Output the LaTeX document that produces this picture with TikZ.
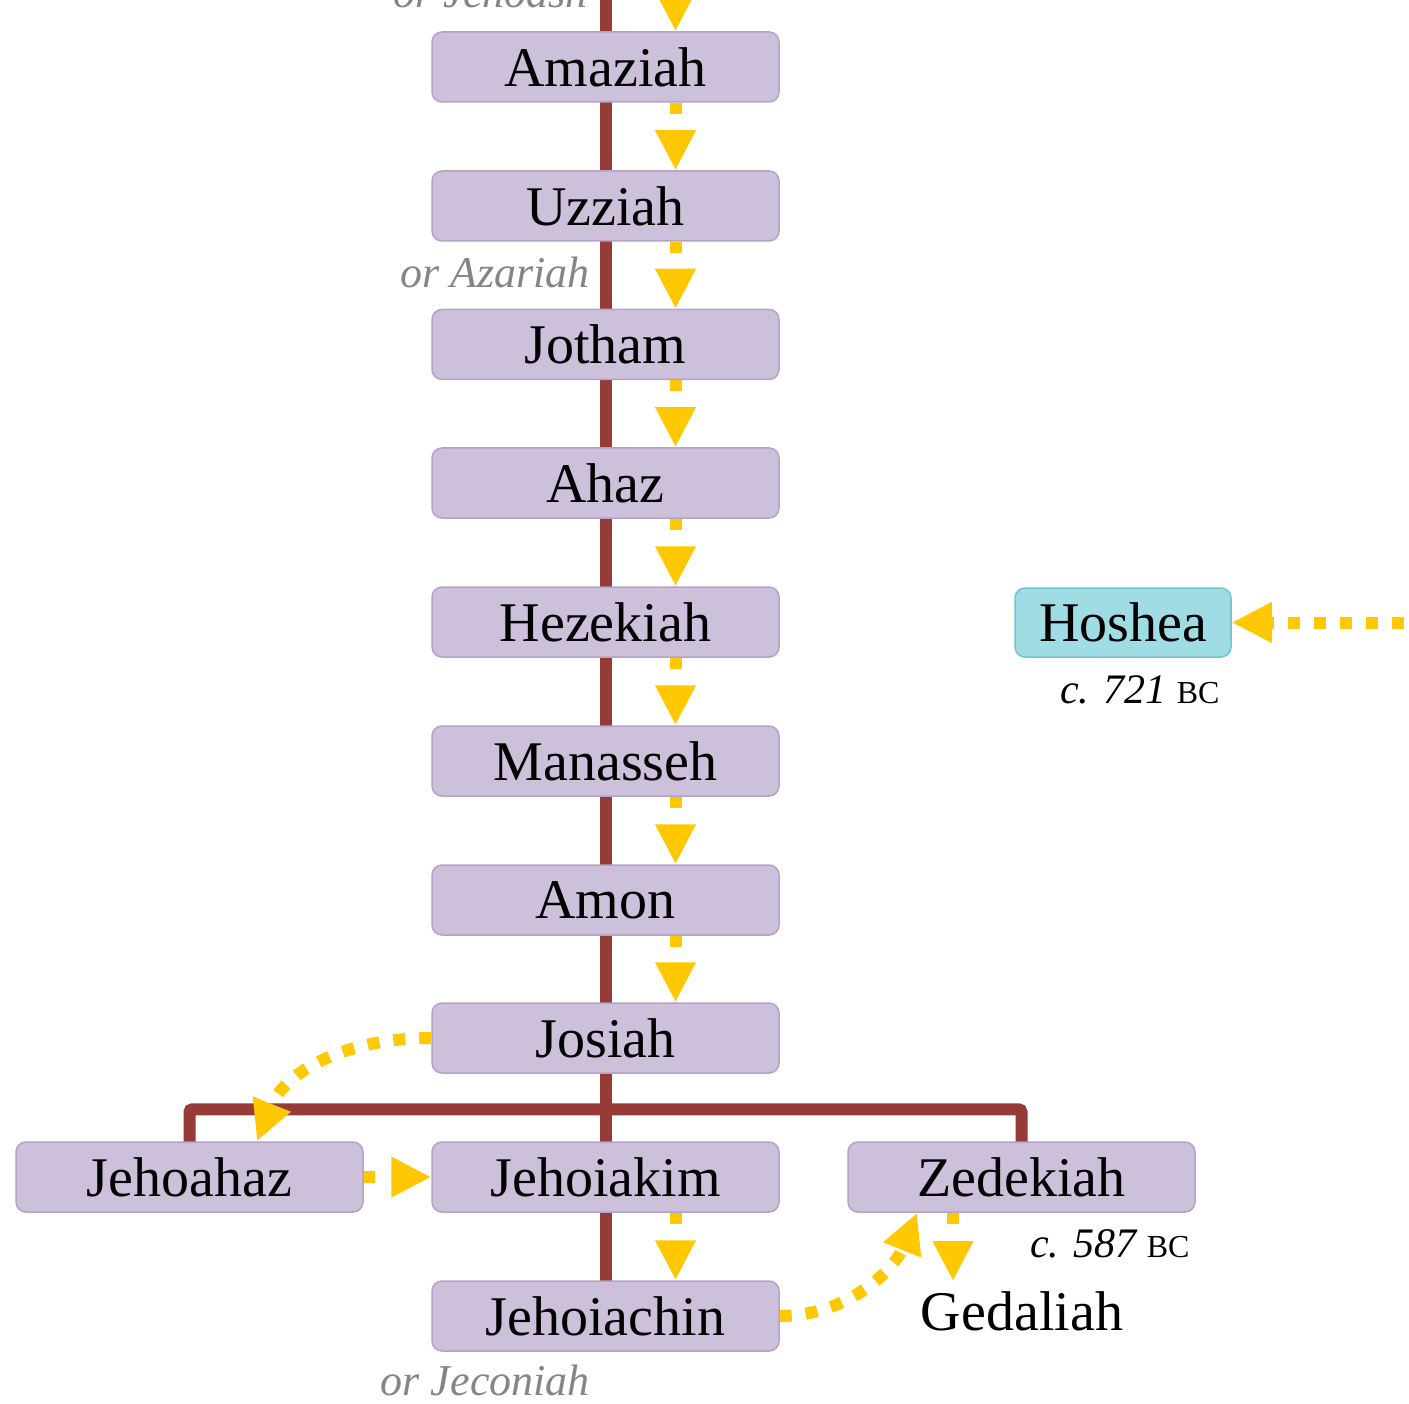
\documentclass[tikz,border=0pt]{standalone}
\usepackage{fontspec}
\setmainfont{Liberation Serif}
\usetikzlibrary{arrows.meta,backgrounds}
\definecolor{kbox}{HTML}{CCC0DA}
\definecolor{kboxline}{HTML}{B3A3C8}
\definecolor{kcyan}{HTML}{A0DCE4}
\definecolor{kcyanline}{HTML}{6FC5CF}
\definecolor{kbrown}{HTML}{963B37}
\definecolor{kyellow}{HTML}{FFC800}
\definecolor{kgray}{HTML}{858585}
\begin{document}
\begin{tikzpicture}[x=1pt,y=-1pt,
  king/.style={draw=kboxline, line width=1.5pt, fill=kbox, rounded corners=10pt,
    minimum width=347pt, minimum height=70pt, inner sep=0pt,
    font=\fontsize{56}{60}\selectfont},
  hosh/.style={king, fill=kcyan, draw=kcyanline, minimum width=216pt, minimum height=69pt},
  kin/.style={draw=kbrown, line width=12pt},
  succ/.style={draw=kyellow, line width=12pt, dash pattern=on 11pt off 40pt,
    -{Triangle[length=40pt,width=38pt]}},
  succlong/.style={succ, dash pattern=on 12pt off 14pt},
  alias/.style={font=\fontsize{44}{48}\selectfont\itshape, text=kgray, inner sep=0pt},
  datelbl/.style={font=\fontsize{42}{46}\selectfont\itshape, inner sep=0pt},
]
\useasboundingbox (0,0) rectangle (1409,1404);
\clip (0,0) rectangle (1409,1404);

% kings
\node[king] (amaziah)   at (605.5,67)   {Amaziah};
\node[king] (uzziah)    at (605.5,206)  {Uzziah};
\node[king] (jotham)    at (605.5,344.5){Jotham};
\node[king] (ahaz)      at (605.5,483)  {Ahaz};
\node[king] (hezekiah)  at (605.5,622)  {Hezekiah};
\node[king] (manasseh)  at (605.5,761)  {Manasseh};
\node[king] (amon)      at (605.5,900)  {Amon};
\node[king] (josiah)    at (605.5,1038) {Josiah};
\node[king] (jehoiakim) at (605.5,1177) {Jehoiakim};
\node[king] (jehoiachin)at (605.5,1316) {Jehoiachin};
\node[king] (jehoahaz)  at (189.5,1177) {Jehoahaz};
\node[king] (zedekiah)  at (1021.5,1177){Zedekiah};
\node[hosh] (hoshea)    at (1123,622.5) {Hoshea};
\node[font=\fontsize{56}{60}\selectfont, inner xsep=0pt, inner ysep=10pt] (gedaliah) at (1022,1311) {Gedaliah};

% labels
\node[alias, anchor=base east] (jehoash)  at (588,8)    {or Jehoash};
\node[alias, anchor=base east] (azariah)  at (590,288)  {or Azariah};
\node[alias, anchor=base east] (jeconiah) at (590,1395) {or Jeconiah};
\node[datelbl, anchor=base west] (d721) at (1060,703)  {c. 721 {\upshape\fontsize{32}{34}\selectfont BC}};
\node[datelbl, anchor=base west] (d587) at (1030,1257) {c. 587 {\upshape\fontsize{32}{34}\selectfont BC}};

% kinship lines
\coordinate (linetop) at (605.5,-20);
\begin{scope}[on background layer]
  \draw[kin] (linetop) -- (jehoiachin.center);
  \draw[kin, rounded corners=3pt] (jehoahaz.center) -- ([yshift=32pt]jehoahaz.north) -| (zedekiah.center);
\end{scope}

% succession arrows
\coordinate (prev) at (675.5,-30);
\draw[succ] (prev) -- ([xshift=70pt]amaziah.north);
\foreach \a/\b in {amaziah/uzziah, uzziah/jotham, jotham/ahaz, ahaz/hezekiah,
  hezekiah/manasseh, manasseh/amon, amon/josiah, jehoiakim/jehoiachin}
  \draw[succ] ([xshift=70pt]\a.south) -- ([xshift=70pt]\b.north);
\draw[succlong] (josiah.west) .. controls +(-85,0) and +(28,-70) .. ([xshift=67.5pt]jehoahaz.north);
\draw[succ] (jehoahaz.east) -- (jehoiakim.west);
\draw[succlong] (jehoiachin.east) .. controls +(70,0) and +(-22,55) .. ([xshift=-104.5pt]zedekiah.south);
\draw[succ] ([xshift=-68.5pt]zedekiah.south) -- ([xshift=-68.5pt]zedekiah.south |- gedaliah.north);
\coordinate (israel) at (1430,622.5);
\draw[succlong] (israel) -- (hoshea.east);
\end{tikzpicture}
\end{document}
